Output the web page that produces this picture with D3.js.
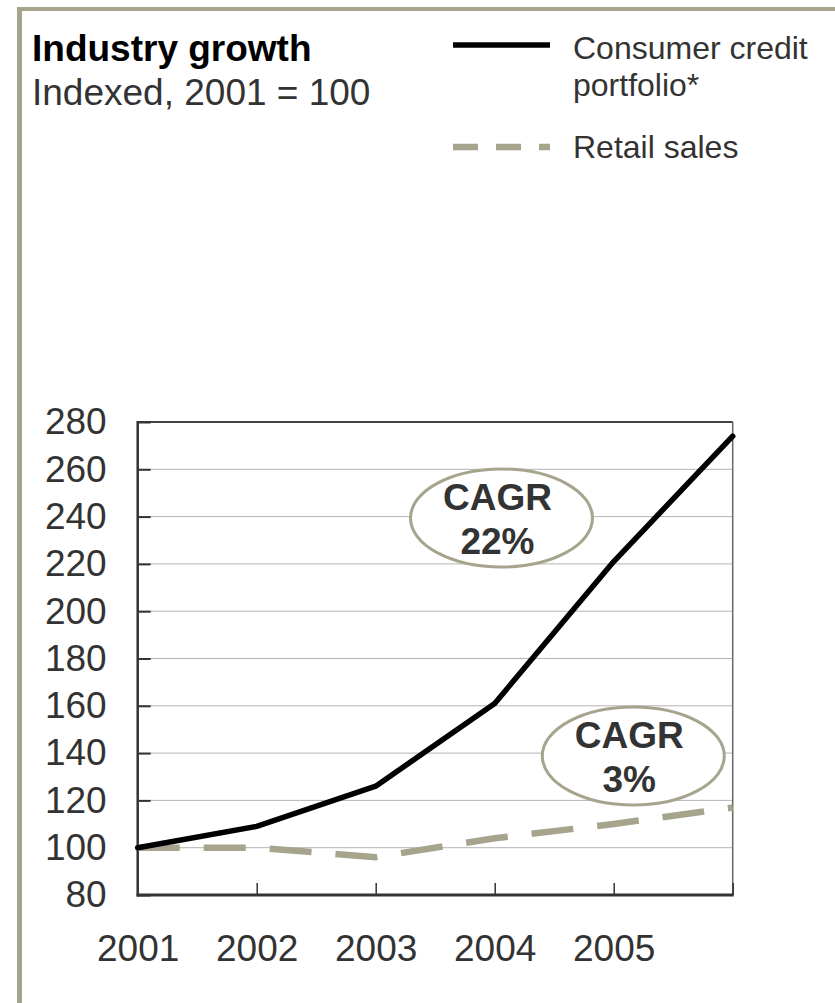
<!DOCTYPE html>
<html>
<head>
<title>Industry growth</title>
<script src="https://d3js.org/d3.v7.min.js"></script>
<style>
  body { margin: 0; background: #fff; }
  svg text { font-family: "Liberation Sans", Arial, sans-serif; }
</style>
</head>
<body>
<div id="chart"></div>
<script>
// data
var years = [2001, 2002, 2003, 2004, 2005, 2006];
var yearLabels = [2001, 2002, 2003, 2004, 2005];
var creditValues = [100, 109, 126, 161, 221, 274];
var retailValues = [100, 100, 96, 104, 110, 117];
var yTicks = [80, 100, 120, 140, 160, 180, 200, 220, 240, 260, 280];
var seriesNames = ["Consumer credit", "portfolio*", "Retail sales"];
var cagrLabels = [["CAGR", "22%"], ["CAGR", "3%"]];

var W = 835, H = 1003;
var plotLeft = 137.7, plotRight = 732.7, plotTop = 422, plotBottom = 895;
var frameColor = "#a6a48c", dashColor = "#a6a48c", textColor = "#333";
var fontFam = "'Liberation Sans', Arial, sans-serif";

var svg = d3.select("#chart").append("svg")
    .attr("width", W)
    .attr("height", H);

// outer frame (left + top only)
svg.append("rect").attr("x", 17).attr("y", 7).attr("width", 5).attr("height", H - 7).attr("fill", frameColor);
svg.append("rect").attr("x", 17).attr("y", 7).attr("width", W - 17).attr("height", 4).attr("fill", frameColor);

// title
svg.append("text").attr("x", 32).attr("y", 61)
    .style("font-size", "37px").style("font-weight", "bold").attr("fill", "#000")
    .text("Industry growth");
svg.append("text").attr("x", 32).attr("y", 105)
    .style("font-size", "37px").attr("fill", textColor)
    .text("Indexed, 2001 = 100");

// legend
svg.append("line").attr("x1", 453).attr("x2", 550).attr("y1", 45).attr("y2", 45)
    .attr("stroke", "#000").attr("stroke-width", 5.5);
svg.append("line").attr("x1", 453).attr("x2", 550).attr("y1", 147).attr("y2", 147)
    .attr("stroke", dashColor).attr("stroke-width", 6.5).attr("stroke-dasharray", "25,18");
svg.selectAll(".leg").data(seriesNames).enter().append("text")
    .attr("class", "leg")
    .attr("x", 573)
    .attr("y", function(d, i) { return [59, 96, 158][i]; })
    .style("font-size", "32px").attr("fill", textColor)
    .text(function(d) { return d; });

var x = d3.scaleLinear().domain([2001, 2006]).range([plotLeft, plotRight]);
var y = d3.scaleLinear().domain([80, 280]).range([plotBottom, plotTop]);

// gridlines
svg.append("g").selectAll("line").data(yTicks.filter(function(d) { return d > 80 && d < 280; }))
    .enter().append("line")
    .attr("x1", plotLeft).attr("x2", plotRight)
    .attr("y1", function(d) { return y(d); }).attr("y2", function(d) { return y(d); })
    .attr("stroke", "#b4b4b4").attr("stroke-width", 1);

// right and top frame of the plot
svg.append("line").attr("x1", plotRight).attr("x2", plotRight).attr("y1", plotTop).attr("y2", plotBottom)
    .attr("stroke", "#666").attr("stroke-width", 1.5);
svg.append("line").attr("x1", plotLeft).attr("x2", plotRight).attr("y1", plotTop).attr("y2", plotTop)
    .attr("stroke", "#444").attr("stroke-width", 2);

// inner y ticks
var yInner = svg.append("g").attr("transform", "translate(" + plotLeft + ",0)")
    .call(d3.axisRight(y).tickValues(yTicks).tickSize(13).tickFormat(""));
yInner.select(".domain").remove();
yInner.selectAll("line").attr("stroke", "#333").attr("stroke-width", 2);

// y labels
var yAxis = svg.append("g").attr("transform", "translate(" + plotLeft + ",0)")
    .call(d3.axisLeft(y).tickValues(yTicks).tickSize(0).tickPadding(31));
yAxis.select(".domain").remove();
yAxis.selectAll("text").style("font-size", "37px").attr("fill", textColor)
    .style("font-family", fontFam);

// x ticks pointing up
var xInner = svg.append("g").attr("transform", "translate(0," + plotBottom + ")")
    .call(d3.axisTop(x).tickValues(years.slice(1)).tickSize(12).tickFormat(""));
xInner.select(".domain").remove();
xInner.selectAll("line").attr("stroke", "#333").attr("stroke-width", 1.5);

// x labels
var xAxis = svg.append("g").attr("transform", "translate(0," + plotBottom + ")")
    .call(d3.axisBottom(x).tickValues(yearLabels).tickSize(0).tickPadding(40).tickFormat(d3.format("d")));
xAxis.select(".domain").remove();
xAxis.selectAll("text").style("font-size", "37px").attr("fill", textColor)
    .style("font-family", fontFam);

// axis lines
svg.append("line").attr("x1", plotLeft).attr("x2", plotLeft).attr("y1", plotTop - 1).attr("y2", plotBottom + 1.5)
    .attr("stroke", "#333").attr("stroke-width", 2.5);
svg.append("line").attr("x1", plotLeft - 1).attr("x2", plotRight + 1).attr("y1", plotBottom).attr("y2", plotBottom)
    .attr("stroke", "#333").attr("stroke-width", 3);

var line = d3.line()
    .x(function(d, i) { return x(years[i]); })
    .y(function(d) { return y(d); });

svg.append("path").datum(retailValues)
    .attr("d", line)
    .attr("fill", "none")
    .attr("stroke", dashColor)
    .attr("stroke-width", 6.5)
    .attr("stroke-dasharray", "42,24");

svg.append("path").datum(creditValues)
    .attr("d", line)
    .attr("fill", "none")
    .attr("stroke", "#000")
    .attr("stroke-width", 5.5)
    .attr("stroke-linecap", "round")
    .attr("stroke-linejoin", "round");

// CAGR bubbles
var bubbles = [{cx: 501.5, cy: 518, lbl: cagrLabels[0]}, {cx: 633.3, cy: 756, lbl: cagrLabels[1]}];
bubbles.forEach(function(b) {
    svg.append("ellipse").attr("cx", b.cx).attr("cy", b.cy).attr("rx", 91).attr("ry", 49)
        .attr("fill", "#fff").attr("stroke", frameColor).attr("stroke-width", 3);
    svg.append("text").attr("x", b.cx - 4).attr("y", b.cy - 8)
        .attr("text-anchor", "middle").style("font-size", "37px").style("font-weight", "bold")
        .attr("fill", textColor).text(b.lbl[0]);
    svg.append("text").attr("x", b.cx - 4).attr("y", b.cy + 36)
        .attr("text-anchor", "middle").style("font-size", "37px").style("font-weight", "bold")
        .attr("fill", textColor).text(b.lbl[1]);
});
</script>
</body>
</html>
